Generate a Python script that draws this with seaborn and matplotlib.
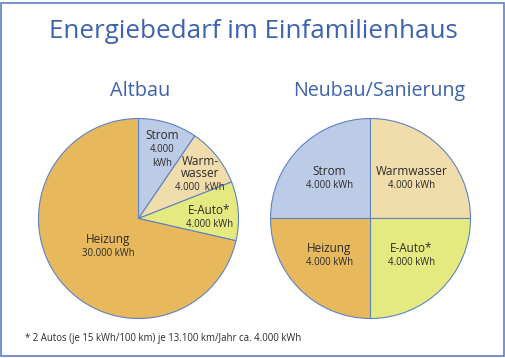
import numpy as np
import matplotlib
matplotlib.use("Agg")
import matplotlib.pyplot as plt
import seaborn as sns
from matplotlib.patches import Rectangle

# Data
categories = ["Strom", "Warmwasser", "E-Auto*", "Heizung"]
altbau_kwh = [4000, 4000, 4000, 30000]
neubau_kwh = [4000, 4000, 4000, 4000]
altbau_names = ["Strom", "Warm-\nwasser", "E-Auto*", "Heizung"]
altbau_values = ["4.000\nkWh", "4.000  kWh", "4.000 kWh", "30.000 kWh"]
neubau_names = ["Strom", "Warmwasser", "E-Auto*", "Heizung"]
neubau_values = ["4.000 kWh", "4.000 kWh", "4.000 kWh", "4.000 kWh"]

colors = ["#bccbe6", "#f1dcab", "#e4ea80", "#e8b95c"]
edge = "#5f82c2"
blue = "#3d62ae"
text_dark = "#2b2b2b"

sns.set_theme(style="white")
plt.rcParams["font.family"] = ["Open Sans", "DejaVu Sans"]

W, H = 506, 358
fig = plt.figure(figsize=(W / 100, H / 100), dpi=100)
fig.patch.set_facecolor("white")


def pie_axes(cx, cy, r):
    return fig.add_axes([(cx - r) / W, 1 - (cy + r) / H, 2 * r / W, 2 * r / H])


def draw_pie(ax, values, names, amounts, start, radial, shift):
    wedges, _ = ax.pie(values, colors=colors, startangle=start, counterclock=False,
                       radius=1, wedgeprops=dict(edgecolor=edge, linewidth=0.8))
    for w, name, amount, rf, da in zip(wedges, names, amounts, radial, shift):
        mid = np.deg2rad((w.theta1 + w.theta2) / 2 + da)
        xy = (rf * np.cos(mid), rf * np.sin(mid))
        ax.annotate(name, xy=xy, xytext=(0, 2), textcoords="offset points",
                    ha="center", va="baseline", fontsize=8.5, color=text_dark,
                    linespacing=0.9)
        ax.annotate(amount, xy=xy, xytext=(0, -1.5), textcoords="offset points",
                    ha="center", va="top", fontsize=6.9, color=text_dark,
                    linespacing=1.4)
    ax.set_xlim(-1.01, 1.01)
    ax.set_ylim(-1.01, 1.01)
    ax.set_aspect("equal")
    ax.axis("off")
    return wedges


ax1 = pie_axes(138.5, 218.5, 101)
draw_pie(ax1, altbau_kwh, altbau_names, altbau_values, 90,
         [0.80, 0.73, 0.71, 0.405], [0, -6.3, -2.7, 3.1])
ax2 = pie_axes(370.5, 218.5, 101)
draw_pie(ax2, neubau_kwh, neubau_names, neubau_values, 180,
         [0.58, 0.58, 0.546, 0.546], [0, 0, 3.7, -3.7])

# Titles
fig.text(0.5, 1 - 31 / H, "Energiebedarf im Einfamilienhaus", ha="center", va="center",
         fontsize=18.7, color=blue)
fig.text(140 / W, 1 - 91 / H, "Altbau", ha="center", va="center", fontsize=14.3, color=blue)
fig.text(379 / W, 1 - 91 / H, "Neubau/Sanierung", ha="center", va="center", fontsize=14.1, color=blue)

# Footnote
fig.text(25 / W, 1 - 338 / H, "* 2 Autos (je 15 kWh/100 km) je 13.100 km/Jahr ca. 4.000 kWh",
         ha="left", va="center", fontsize=6.95, color=text_dark)

# Frame
fig.patches.append(Rectangle((1.5 / W, 1 - 356 / H), 503 / W, 353 / H, transform=fig.transFigure,
                             fill=False, edgecolor=edge, linewidth=1.2))

fig.savefig("out.png", dpi=100)
